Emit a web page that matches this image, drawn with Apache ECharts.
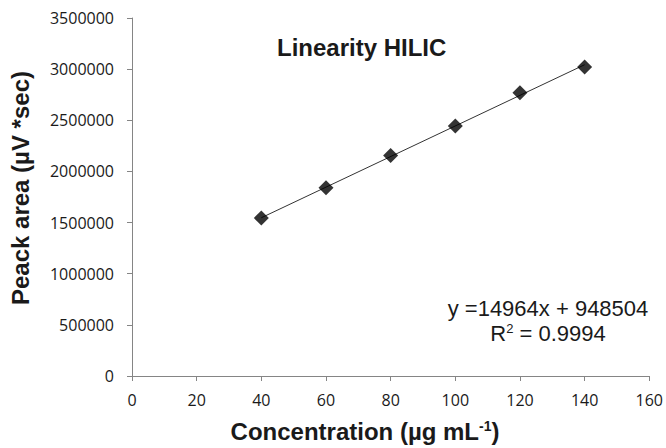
<!DOCTYPE html>
<html>
<head>
<meta charset="utf-8">
<script src="https://cdn.jsdelivr.net/npm/echarts@6/dist/echarts.min.js"></script>
<style>
    html, body { margin: 0; padding: 0; background: #fff; }
    #main { width: 666px; height: 448px; }
</style>
</head>
<body>
<div id="main"></div>
<script>
    "use strict";

    // measured points
    var concentration = [40, 60, 80, 100, 120, 140];
    var peakArea = [1545000, 1840000, 2155000, 2445000, 2770000, 3020000];

    // linear trendline ends
    var trendX = [40, 140];
    var trendY = [1547000, 3043000];

    var xTicks = [0, 20, 40, 60, 80, 100, 120, 140, 160];
    var yTicks = [0, 500000, 1000000, 1500000, 2000000, 2500000, 3000000, 3500000];

    var equationText = 'y =14964x + 948504';
    var r2Text = '0.9994';

    var axisColor = '#858585';
    var textColor = '#1a1a1a';
    var tickFont = '"Open Sans", "Liberation Sans", sans-serif';
    var boldFont = '"Liberation Sans", Arial, sans-serif';

    var points = concentration.map(function(x, i) { return [x, peakArea[i]]; });
    var trend = trendX.map(function(x, i) { return [x, trendY[i]]; });

    var chart = echarts.init(document.getElementById('main'), null, { renderer: 'svg' });

    var option = {
        animation: false,
        backgroundColor: '#fff',
        grid: { left: 132, right: 14, top: 18, bottom: 72 },
        xAxis: {
            type: 'value',
            min: xTicks[0],
            max: xTicks[xTicks.length - 1],
            interval: xTicks[1] - xTicks[0],
            splitLine: { show: false },
            axisLine: { lineStyle: { color: axisColor, width: 1 } },
            axisTick: { show: true, length: 5, lineStyle: { color: axisColor } },
            axisLabel: {
                margin: 16, color: textColor, fontFamily: tickFont, fontSize: 16,
                formatter: function(v) { return String(v); }
            }
        },
        yAxis: {
            type: 'value',
            min: yTicks[0],
            max: yTicks[yTicks.length - 1],
            interval: yTicks[1] - yTicks[0],
            splitLine: { show: false },
            axisLine: { show: true, lineStyle: { color: axisColor, width: 1 } },
            axisTick: { show: true, length: 5, lineStyle: { color: axisColor } },
            axisLabel: {
                margin: 18, color: textColor, fontFamily: tickFont, fontSize: 16,
                formatter: function(v) { return String(v); }
            }
        },
        series: [{
            name: 'trend',
            type: 'line',
            data: trend,
            symbol: 'none',
            silent: true,
            lineStyle: { color: '#333', width: 1 },
            z: 2
        }, {
            name: 'HILIC',
            type: 'scatter',
            data: points,
            symbol: 'diamond',
            symbolSize: 15,
            itemStyle: { color: '#000' },
            z: 3
        }],
        graphic: [{
            type: 'text',
            left: 277,
            top: 35,
            style: {
                text: 'Linearity HILIC',
                font: 'bold 24px ' + boldFont,
                fill: textColor
            }
        }, {
            type: 'text',
            x: 20,
            y: 188,
            rotation: Math.PI / 2,
            style: {
                text: 'Peack area (µV *sec)',
                font: 'bold 24px ' + boldFont,
                fill: textColor,
                align: 'center',
                verticalAlign: 'middle'
            }
        }, {
            type: 'text',
            x: 365,
            y: 431,
            style: {
                text: '{t|Concentration (µg mL}{s|-1}{t|)}',
                align: 'center',
                verticalAlign: 'middle',
                rich: {
                    t: { font: 'bold 24px ' + boldFont, fill: textColor, verticalAlign: 'bottom' },
                    s: { font: 'bold 14px ' + boldFont, fill: textColor, verticalAlign: 'top', padding: [0, 0, 10, 0] }
                }
            }
        }, {
            type: 'text',
            x: 548,
            y: 308,
            style: {
                text: equationText,
                font: '22px ' + boldFont,
                fill: textColor,
                align: 'center',
                verticalAlign: 'middle'
            }
        }, {
            type: 'text',
            x: 548,
            y: 333,
            style: {
                text: '{t|R}{s|2}{t| = ' + r2Text + '}',
                align: 'center',
                verticalAlign: 'middle',
                rich: {
                    t: { font: '22px ' + boldFont, fill: textColor },
                    s: { font: '13px ' + boldFont, fill: textColor, padding: [0, 0, 10, 0] }
                }
            }
        }]
    };

    chart.setOption(option);
</script>
</body>
</html>
